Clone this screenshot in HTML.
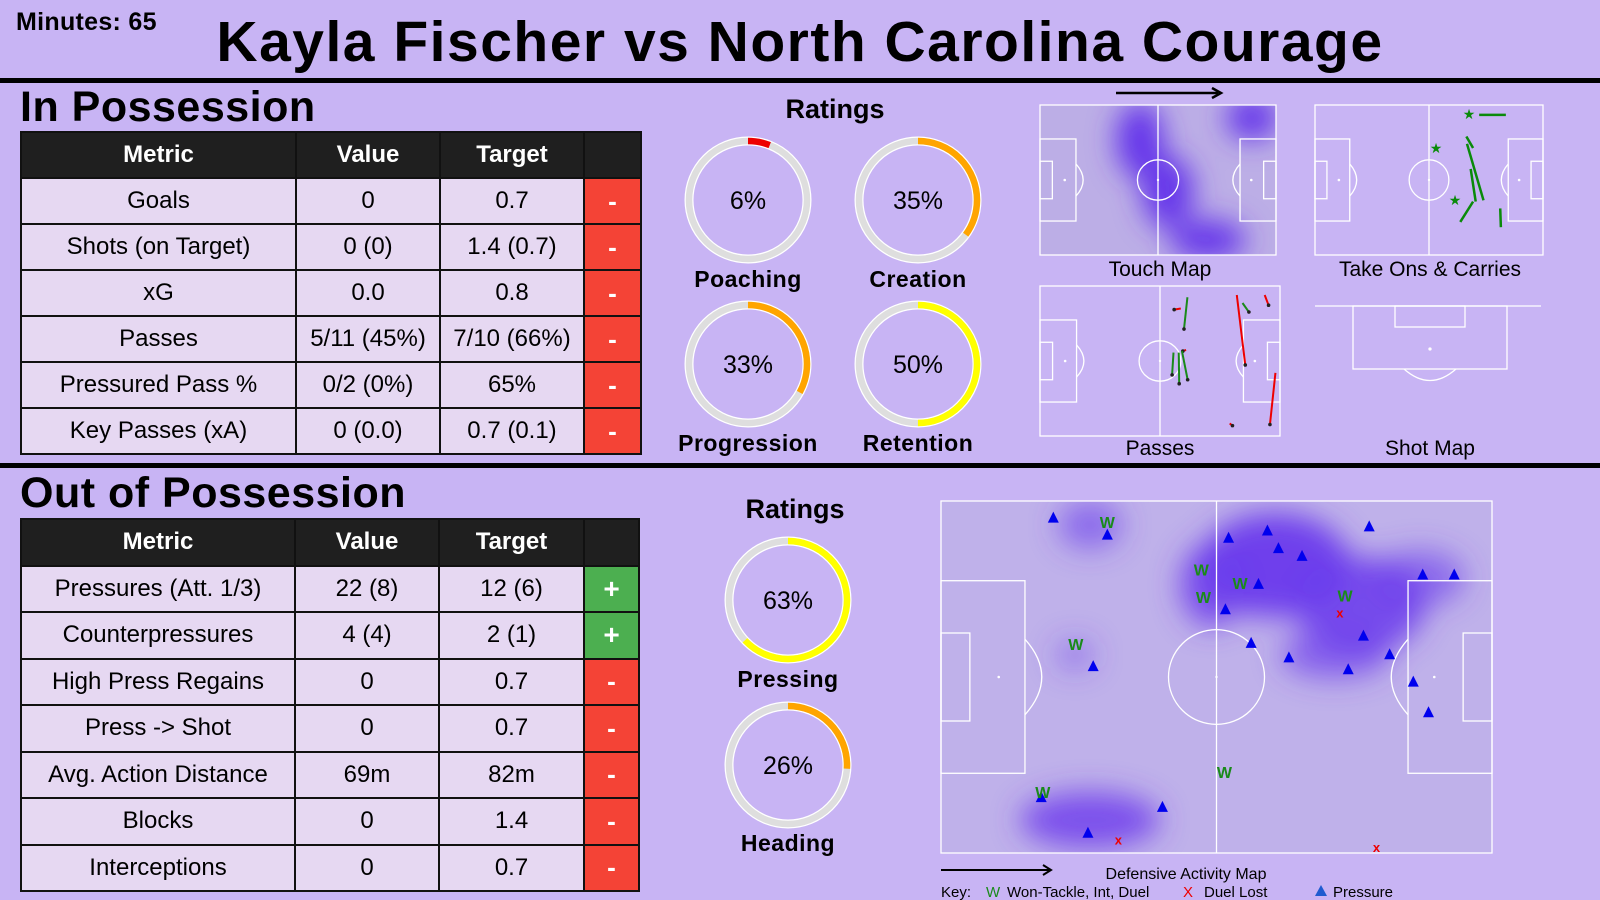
<!DOCTYPE html>
<html><head><meta charset="utf-8">
<style>
*{margin:0;padding:0;box-sizing:border-box}
body{width:1600px;height:900px;background:#c8b4f4;font-family:"Liberation Sans",sans-serif;position:relative;overflow:hidden;color:#000}
.abs{position:absolute}
table{position:absolute;border-collapse:collapse;table-layout:fixed}
td,th{border:2.5px solid #111;text-align:center;font-size:24px;font-weight:normal;background:#e6d8f2;padding:0;white-space:nowrap}
th{background:#1f1f1f;color:#fff;font-weight:bold}
td.r{background:#f44336;color:#fff;font-weight:bold;font-size:26px}
td.g{background:#4caf50;color:#fff;font-weight:bold;font-size:28px}
.h{font-weight:bold;font-size:43px;left:20px;letter-spacing:0.5px}
</style></head><body>
<div class="abs" style="left:16px;top:8px;font-size:25px;font-weight:bold;letter-spacing:0.3px">Minutes: 65</div>
<div class="abs" style="left:0;width:1600px;top:9px;text-align:center;font-size:57px;font-weight:bold;letter-spacing:1.5px;padding-right:0px">Kayla Fischer vs North Carolina Courage</div>
<div class="abs" style="left:0;top:78px;width:1600px;height:5px;background:#000"></div>
<div class="abs" style="left:0;top:463px;width:1600px;height:5px;background:#000"></div>
<div class="abs h" style="top:83px">In Possession</div>
<div class="abs h" style="top:469px">Out of Possession</div>

<table style="left:20px;top:131px;width:620px">
<colgroup><col style="width:275px"><col style="width:144px"><col style="width:144px"><col style="width:57px"></colgroup>
<tr style="height:46px"><th>Metric</th><th>Value</th><th>Target</th><th></th></tr>
<tr style="height:46px"><td>Goals</td><td>0</td><td>0.7</td><td class="r">-</td></tr>
<tr style="height:46px"><td>Shots (on Target)</td><td>0 (0)</td><td>1.4 (0.7)</td><td class="r">-</td></tr>
<tr style="height:46px"><td>xG</td><td>0.0</td><td>0.8</td><td class="r">-</td></tr>
<tr style="height:46px"><td>Passes</td><td>5/11 (45%)</td><td>7/10 (66%)</td><td class="r">-</td></tr>
<tr style="height:46px"><td>Pressured Pass %</td><td>0/2 (0%)</td><td>65%</td><td class="r">-</td></tr>
<tr style="height:46px"><td>Key Passes (xA)</td><td>0 (0.0)</td><td>0.7 (0.1)</td><td class="r">-</td></tr>
</table>

<table style="left:20px;top:518px;width:618px">
<colgroup><col style="width:274px"><col style="width:144px"><col style="width:145px"><col style="width:55px"></colgroup>
<tr style="height:46.5px"><th>Metric</th><th>Value</th><th>Target</th><th></th></tr>
<tr style="height:46.5px"><td>Pressures (Att. 1/3)</td><td>22 (8)</td><td>12 (6)</td><td class="g">+</td></tr>
<tr style="height:46.5px"><td>Counterpressures</td><td>4 (4)</td><td>2 (1)</td><td class="g">+</td></tr>
<tr style="height:46.5px"><td>High Press Regains</td><td>0</td><td>0.7</td><td class="r">-</td></tr>
<tr style="height:46.5px"><td>Press -&gt; Shot</td><td>0</td><td>0.7</td><td class="r">-</td></tr>
<tr style="height:46.5px"><td>Avg. Action Distance</td><td>69m</td><td>82m</td><td class="r">-</td></tr>
<tr style="height:46.5px"><td>Blocks</td><td>0</td><td>1.4</td><td class="r">-</td></tr>
<tr style="height:46.5px"><td>Interceptions</td><td>0</td><td>0.7</td><td class="r">-</td></tr>
</table>

<svg id="s" class="abs" style="left:0;top:0" width="1600" height="900" xmlns="http://www.w3.org/2000/svg" font-family="Liberation Sans, sans-serif">
<defs>
<filter id="blur" x="-50%" y="-50%" width="200%" height="200%"><feGaussianBlur stdDeviation="14"/></filter>
<clipPath id="clipTouch"><rect x="1040" y="105" width="236" height="150"/></clipPath>
<clipPath id="clipDef"><rect x="941" y="501" width="551" height="352"/></clipPath>
</defs>
<text x="835" y="118" text-anchor="middle" font-size="27" font-weight="bold">Ratings</text>
<text x="795" y="518" text-anchor="middle" font-size="27" font-weight="bold">Ratings</text>
<g id="gauges"></g>
<g id="maps"></g>
</svg>

<script>
const ratingLabels = ["Poaching","Creation","Progression","Retention","Pressing","Heading"];
const ratingValues = [6,35,33,50,63,26];
const defPressX = [21.4,31.7,54.8,62.2,64.3,68.8,81.6,60.5,54.2,91.8,97.8,59.1,66.3,80.5,77.6,85.5,90.0,92.9,29.0,42.2,19.1,28.0];
const defPressY = [3.2,6.5,7.1,5.7,9.1,10.6,4.9,16.0,20.9,14.2,14.2,27.4,30.2,26.0,32.5,29.6,34.9,40.8,31.9,59.1,57.2,64.1];
const defWonX = [31.7,49.6,57.0,50.0,77.0,25.7,54.0,19.4];
const defWonY = [4.1,13.2,15.8,18.5,18.3,27.6,52.4,56.2];
const defLostX = [76.0,33.8,83.0];
const defLostY = [21.5,65.4,66.8];
const passStartX = [64.5,61.6,63.9,58.4,60.7,62.1,86.1,88.6,98.3,103.0,83.0];
const passStartY = [5.1,10.2,29.0,30.2,30.2,29.5,4.1,7.7,4.1,39.4,62.3];
const passEndX = [63.0,58.7,62.5,57.8,60.9,64.6,89.8,91.4,100.0,100.6,84.2];
const passEndY = [19.5,10.7,29.5,40.3,44.3,42.5,35.8,11.8,8.7,62.8,63.3];
const passDone = [1,0,0,1,1,1,0,1,0,0,0];
const carryStartX = [75.6,69.7,70.0,71.7,72.8,85.3];
const carryStartY = [4.5,14.3,17.6,29.0,43.8,46.9];
const carryEndX = [87.9,72.8,77.6,74.0,66.9,85.6];
const carryEndY = [4.5,19.5,43.2,43.8,53.0,55.4];

const NS="http://www.w3.org/2000/svg";
function mk(tag,attrs,parent){const e=document.createElementNS(NS,tag);for(const k in attrs)e.setAttribute(k,attrs[k]);parent.appendChild(e);return e;}
const G=document.getElementById('gauges'), M=document.getElementById('maps');

const gpos=[[748,200,279],[918,200,279],[748,364,443],[918,364,443],[788,600,679],[788,765,843]];
function gcol(v){return v<20?'#ee0000':(v<45?'#ffa500':'#ffff00');}
ratingValues.forEach((v,i)=>{
  const [cx,cy,ly]=gpos[i], r=59;
  const g=mk('g',{},G);
  
  
  mk('circle',{cx,cy,r,fill:'none',stroke:'#fff','stroke-width':9},g);
  mk('circle',{cx,cy,r,fill:'none',stroke:'#dedede','stroke-width':6.5},g);
  const C=2*Math.PI*r;
  mk('circle',{cx,cy,r,fill:'none',stroke:gcol(v),'stroke-width':6.5,'stroke-dasharray':(C*v/100)+' '+C,transform:`rotate(-90 ${cx} ${cy})`},g);
  const t=mk('text',{x:cx,y:cy+9,'text-anchor':'middle','font-size':25},g); t.textContent=v+'%';
  const l=mk('text',{x:cx,y:ly+8,'text-anchor':'middle','font-size':23,'font-weight':'bold','letter-spacing':0.5},g); l.textContent=ratingLabels[i];
});

function pitch(x0,y0,w,h,parent){
  const sx=w/105, sy=h/68, st={fill:'none',stroke:'#fff','stroke-width':1.3};
  const P=(a)=>Object.assign({},st,a);
  mk('rect',P({x:x0,y:y0,width:w,height:h}),parent);
  mk('line',P({x1:x0+w/2,y1:y0,x2:x0+w/2,y2:y0+h}),parent);
  mk('ellipse',P({cx:x0+w/2,cy:y0+h/2,rx:9.15*sx,ry:9.15*sy}),parent);
  [0,1].forEach(s=>{
    const bx=s?x0+w-16*sx:x0, sbx=s?x0+w-5.5*sx:x0;
    mk('rect',P({x:bx,y:y0+(34-18.6)*sy,width:16*sx,height:37.2*sy}),parent);
    mk('rect',P({x:sbx,y:y0+(34-8.5)*sy,width:5.5*sx,height:17*sy}),parent);
    const px=s?x0+w-11*sx:x0+11*sx;
    mk('circle',{cx:px,cy:y0+h/2,r:1.3,fill:'#fff'},parent);
    const ax=s?x0+w-16*sx:x0+16*sx, dy=7.3*sy, dx=3.2*sx*(s?-1:1);
    mk('path',P({d:`M${ax} ${y0+h/2-dy} Q${ax+dx*2} ${y0+h/2} ${ax} ${y0+h/2+dy}`}),parent);
  });
  mk('circle',{cx:x0+w/2,cy:y0+h/2,r:1.2,fill:'#fff'},parent);
}
function lbl(x,y,s,name,size){const t=mk('text',{x,y,'text-anchor':'middle','font-size':size||21},M);t.textContent=s;return t;}

const tg=mk('g',{'clip-path':'url(#clipTouch)'},M);


mk('rect',{x:1040,y:105,width:236,height:150,fill:'#bcaee6'},tg);
const tb=mk('g',{filter:'url(#blur)',fill:'#6535ea'},tg);
mk('ellipse',{cx:1140,cy:140,rx:24,ry:38,opacity:1},tb);
mk('ellipse',{cx:1168,cy:192,rx:26,ry:36,opacity:1},tb);
mk('ellipse',{cx:1208,cy:240,rx:38,ry:20,opacity:1},tb);
mk('ellipse',{cx:1252,cy:118,rx:26,ry:22,opacity:1},tb);
mk('ellipse',{cx:1152,cy:168,rx:14,ry:20,opacity:0.8},tb);
pitch(1040,105,236,150,M);
lbl(1160,276,'Touch Map','touch-map-label');
mk('line',{x1:1116,y1:93,x2:1218,y2:93,stroke:'#000','stroke-width':2.5},M);
mk('path',{d:'M1212 88 L1221 93 L1212 98',fill:'none',stroke:'#000','stroke-width':2.5},M);

pitch(1315,105,228,150,M);
lbl(1430,276,'Take Ons & Carries','take-ons-label');
const cg=mk('g',{},M);


const csx=228/105, csy=150/68;
carryStartX.forEach((v,i)=>{
  const l=mk('line',{x1:1315+v*csx,y1:105+carryStartY[i]*csy,x2:1315+carryEndX[i]*csx,y2:105+carryEndY[i]*csy,stroke:'#0a8a0a','stroke-width':2.5},cg);
  
});
[[1469,114],[1436,148],[1455,200]].forEach(p=>{const s=mk('text',{x:p[0],y:p[1]+5,'text-anchor':'middle','font-size':14,fill:'#0a8a0a'},cg);s.textContent='★';});

const pg=mk('g',{},M);


pitch(1040,286,240,150,pg);
const psx=240/105, psy=150/68;
passStartX.forEach((v,i)=>{
  const c=passDone[i]?'#1a8a1a':'#ee0000';
  const x1=1040+v*psx,y1=286+passStartY[i]*psy,x2=1040+passEndX[i]*psx,y2=286+passEndY[i]*psy;
  const l=mk('line',{x1,y1,x2,y2,stroke:c,'stroke-width':2},pg);
  
  mk('circle',{cx:x2,cy:y2,r:1.8,fill:'#222'},pg);
});
lbl(1160,455,'Passes','passes-label');

const sg=mk('g',{fill:'none',stroke:'#fff','stroke-width':1.3},M);


mk('line',{x1:1315,y1:306,x2:1541,y2:306},sg);
mk('rect',{x:1353,y:306,width:154,height:63},sg);
mk('rect',{x:1395,y:306,width:70,height:21},sg);
mk('path',{d:'M1404 369 Q1430 392 1456 369'},sg);
mk('circle',{cx:1430,cy:349,r:1,fill:'#fff'},sg);
lbl(1430,455,'Shot Map','shot-map-label');

const X0=941,Y0=501,W=551,H=352,dsx=W/105,dsy=H/68;
const dx=v=>X0+v*dsx, dy=v=>Y0+v*dsy;
const dg=mk('g',{'clip-path':'url(#clipDef)'},M);


mk('rect',{x:X0,y:Y0,width:W,height:H,fill:'#bfb1ea'},dg);
const db=mk('g',{filter:'url(#blur)',fill:'#6a3aec'},dg);
mk('ellipse',{cx:1275,cy:565,rx:75,ry:52,opacity:0.95},db);
mk('ellipse',{cx:1360,cy:605,rx:65,ry:48,opacity:0.85},db);
mk('ellipse',{cx:1420,cy:578,rx:45,ry:28,opacity:0.6},db);
mk('ellipse',{cx:1212,cy:585,rx:32,ry:42,opacity:0.8},db);
mk('ellipse',{cx:1335,cy:655,rx:55,ry:24,opacity:0.65},db);
mk('ellipse',{cx:1090,cy:525,rx:32,ry:24,opacity:0.6},db);
mk('ellipse',{cx:1090,cy:820,rx:70,ry:28,opacity:0.8},db);
mk('ellipse',{cx:1075,cy:655,rx:20,ry:16,opacity:0.4},db);
pitch(X0,Y0,W,H,M);
const ev=mk('g',{},M);


defPressX.forEach((v,i)=>{
  const x=dx(v),y=dy(defPressY[i]);
  const p=mk('path',{d:`M${x} ${y-6} L${x+5.5} ${y+5} L${x-5.5} ${y+5} Z`,fill:'#0000ee'},ev);
  
});
defWonX.forEach((v,i)=>{
  const t=mk('text',{x:dx(v),y:dy(defWonY[i])+6,'text-anchor':'middle','font-size':16,'font-weight':'bold',fill:'#1a8a1a'},ev);
  t.textContent='W';
  
});
defLostX.forEach((v,i)=>{
  const t=mk('text',{x:dx(v),y:dy(defLostY[i])+5,'text-anchor':'middle','font-size':13,'font-weight':'bold',fill:'#ee0000'},ev);
  t.textContent='x';
  
});
mk('line',{x1:941,y1:870,x2:1049,y2:870,stroke:'#000','stroke-width':2},M);
mk('path',{d:'M1043 865 L1051 870 L1043 875',fill:'none',stroke:'#000','stroke-width':2},M);
lbl(1186,879,'Defensive Activity Map','defensive-map-label',16);
const kg=mk('g',{'font-size':15},M);


[[941,'Key:','#000'],[986,'W','#1a8a1a'],[1007,'Won-Tackle, Int, Duel','#000'],[1183,'X','#ee0000'],[1204,'Duel Lost','#000'],[1333,'Pressure','#000']].forEach(k=>{const t=mk('text',{x:k[0],y:897,fill:k[2]},kg);t.textContent=k[1];});
mk('path',{d:'M1321 885 L1327 896 L1315 896 Z',fill:'#1e5bd0'},kg);
</script>
</body></html>
